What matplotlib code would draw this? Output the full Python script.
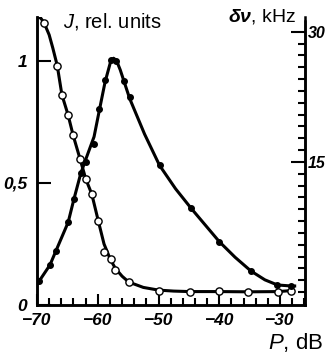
import matplotlib
matplotlib.use("Agg")
import matplotlib.pyplot as plt
from matplotlib.ticker import FixedLocator, MultipleLocator, FuncFormatter

# P, dB and J (rel. units), open circles
p_open = [-68.85, -66.67, -65.9, -64.9, -64.05, -62.9, -61.97, -60.98, -59.9,
          -58.97, -57.9, -57.1, -54.9, -50.0, -44.9, -40.0, -35.2, -30.3, -28.2]
j_open = [1.157, 0.981, 0.861, 0.780, 0.695, 0.597, 0.516, 0.454, 0.343,
          0.216, 0.190, 0.143, 0.094, 0.059, 0.055, 0.059, 0.053, 0.053, 0.059]
# J curve
p_j_line = [-70.0, -69.4, -68.85, -68.0, -67.4, -66.67, -65.9, -64.9, -64.05,
            -62.9, -61.97, -60.98, -59.9, -58.97, -57.9, -57.1, -56.0, -54.9,
            -52.5, -50.0, -47.5, -44.9, -40.0, -35.2, -30.3, -28.2]
j_j_line = [1.18, 1.176, 1.157, 1.107, 1.053, 0.981, 0.861, 0.780, 0.695,
            0.597, 0.516, 0.454, 0.343, 0.250, 0.185, 0.150, 0.118, 0.094,
            0.072, 0.061, 0.057, 0.055, 0.055, 0.054, 0.055, 0.059]

# P, dB and linewidth (kHz), filled dots
p_dot = [-69.6, -67.87, -66.89, -64.87, -63.93, -62.79, -61.97, -60.61, -59.84,
         -58.8, -57.87, -56.93, -55.69, -54.75, -49.84, -44.64, -40.0, -34.8,
         -30.44, -28.15]
dnu_dot = [1.3, 3.11, 4.73, 8.04, 10.69, 13.69, 14.96, 17.07, 21.1,
           24.4, 26.7, 26.6, 24.3, 22.5, 14.6, 9.65, 5.8, 2.42, 0.81, 0.69]
# linewidth curve
p_dnu_line = [-70.0, -69.6, -67.87, -66.89, -64.87, -63.93, -62.79, -61.97,
              -60.61, -59.84, -58.8, -57.87, -57.4, -56.93, -56.3, -55.69,
              -54.75, -52.3, -49.84, -47.2, -44.64, -40.0, -37.4, -34.8,
              -32.5, -30.44, -28.15, -27.6]
dnu_line = [0.9, 1.3, 3.11, 4.73, 8.04, 10.69, 13.69, 15.3,
            17.9, 20.6, 24.2, 26.6, 26.95, 26.7, 25.6, 24.3,
            22.3, 18.2, 14.6, 11.9, 9.65, 5.8, 4.0, 2.42,
            1.4, 0.81, 0.69, 0.69]

x_labels = [-70, -60, -50, -40, -30]
j_ticks = [0, 0.5, 1]
dnu_ticks = [15, 30]

plt.rcParams["mathtext.fontset"] = "custom"
plt.rcParams["mathtext.it"] = "Liberation Sans:italic"
plt.rcParams["mathtext.bf"] = "Liberation Sans:bold:italic"
plt.rcParams["mathtext.rm"] = "Liberation Sans"

tickfont = dict(family=["Liberation Sans Narrow", "Liberation Sans"],
                weight="bold", style="italic", size=12.5)
rightfont = dict(family=["Liberation Sans Narrow", "Liberation Sans"],
                 weight="bold", style="italic", size=11.5)

fig = plt.figure(figsize=(3.27, 3.52), dpi=100)
ax = fig.add_axes([37 / 327, 47 / 352, 268 / 327, 288 / 352])
ax2 = ax.twinx()

ax.plot(p_j_line, j_j_line, color="black", lw=2.2, zorder=2)
ax.plot(p_open, j_open, "o", ms=5.2, mfc="white", mec="black", mew=1.0, zorder=3)
ax2.plot(p_dnu_line, dnu_line, color="black", lw=2.2, zorder=2)
ax2.plot(p_dot, dnu_dot, "o", ms=4.0, color="black", zorder=3)

ax.set_xlim(-70, -25.9)
ax.set_ylim(0, 1.18)
ax2.set_ylim(-1.5, 31.7)

for a in (ax, ax2):
    a.spines["top"].set_visible(False)
    for s in a.spines.values():
        s.set_linewidth(1.8)
ax2.spines["right"].set_bounds(-1.5, 31.2)

ax.xaxis.set_major_locator(FixedLocator(x_labels))
ax.xaxis.set_minor_locator(MultipleLocator(2))
ax.yaxis.set_major_locator(FixedLocator(j_ticks))
ax.yaxis.set_major_formatter(FuncFormatter(lambda v, _: "0" if v == 0 else ("1" if v == 1 else "0,5")))
ax.xaxis.set_major_formatter(FuncFormatter(lambda v, _: "\u2212%d" % abs(v)))
ax2.yaxis.set_major_locator(FixedLocator(dnu_ticks))
ax2.yaxis.set_minor_locator(FixedLocator([k * 15 / 11 for k in range(23)]))

ax.tick_params(axis="x", which="major", direction="in", length=8, width=1.5, pad=6)
ax.tick_params(axis="x", which="minor", direction="in", length=5, width=1.5)
ax.tick_params(axis="y", which="major", direction="in", length=10, width=1.5, pad=7)
ax2.tick_params(axis="y", which="major", direction="in", length=10, width=1.5, pad=2)
ax2.tick_params(axis="y", which="minor", direction="in", length=5, width=1.5)

for lab in ax.get_xticklabels() + ax.get_yticklabels():
    lab.set_fontproperties(tickfont)
for lab in ax2.get_yticklabels():
    lab.set_fontproperties(rightfont)

fig.text(63 / 327, 1 - 22 / 352, r"$\it{J}$, rel. units", family="Liberation Sans",
         fontsize=14.5, va="center", ha="left")
fig.text(296 / 327, 1 - 16 / 352, r"$\mathbf{\delta\nu}$, kHz", family="Liberation Sans",
         fontsize=14, va="center", ha="right")
fig.text(323 / 327, 1 - 342 / 352, r"$\it{P}$, dB", family="Liberation Sans",
         fontsize=16, va="center", ha="right")

fig.savefig("out.png", dpi=100)
